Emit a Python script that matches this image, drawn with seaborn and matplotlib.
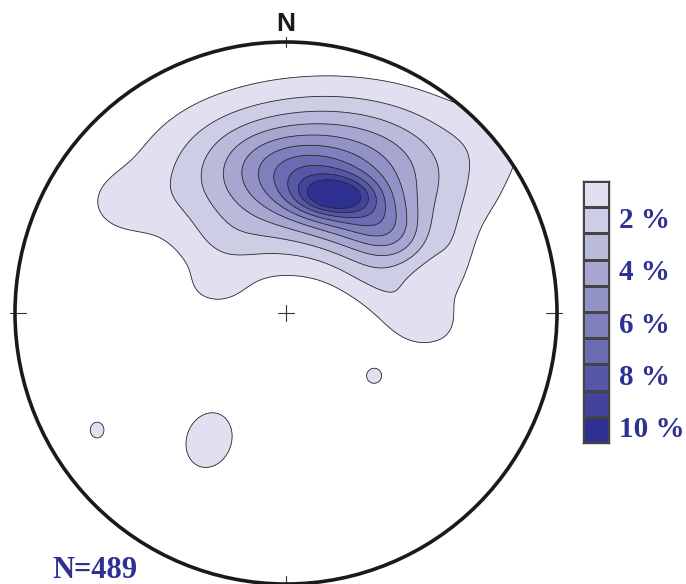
#!/usr/bin/env python3
"""
Stereonet pole density plot (Kamb-style percent contours)
"""

import numpy as np
import matplotlib
matplotlib.use("Agg")
import matplotlib.pyplot as plt
import seaborn as sns
from matplotlib.colors import ListedColormap
from matplotlib.patches import Circle

# density model: concentration centres on the unit net
# (x east, y north), spreads, rotation (deg) and peak height in percent
comp_x = [0.181, 0.199, 0.125, 0.384, 0.125, 0.347, 0.493, 0.624, -0.613, -0.262,
          -0.225, 0.790, -0.284, 0.325, -0.697]
comp_y = [0.432, 0.417, 0.521, 0.277, 0.472, 0.103, -0.044, 0.159, 0.399, 0.085,
          0.251, 0.657, -0.469, -0.232, -0.432]
comp_sx = [0.090, 0.203, 0.345, 0.111, 0.380, 0.166, 0.103, 0.055, 0.111, 0.111,
           0.111, 0.111, 0.080, 0.028, 0.026]
comp_sy = [0.044, 0.089, 0.185, 0.081, 0.203, 0.081, 0.081, 0.166, 0.092, 0.074,
           0.074, 0.092, 0.100, 0.028, 0.030]
comp_angle = [0, -25, 2, -35, 0, -40, -20, 0, 0, 0, 0, 0, -20, 0, 0]
comp_amp = [3.2, 3.0, 5.0, 1.8, 1.4, 1.3, 0.9, 0.7, 0.8, 0.85, 0.6, 0.45, 1.7, 1.6, 1.6]

levels = [1, 2, 3, 4, 5, 6, 7, 8, 9, 10]
level_labels = ["2 %", "4 %", "6 %", "8 %", "10 %"]
n_poles = 489

palette = sns.blend_palette(["#e2e0f0", "#2e3192"], len(levels))
text_blue = "#2e3192"

# evaluate density on a grid
g = np.linspace(-1.02, 1.02, 500)
X, Y = np.meshgrid(g, g)
Z = np.zeros_like(X)
for cx, cy, sx, sy, ang, amp in zip(comp_x, comp_y, comp_sx, comp_sy, comp_angle, comp_amp):
    t = np.deg2rad(ang)
    dx, dy = X - cx, Y - cy
    a = dx * np.cos(t) + dy * np.sin(t)
    b = -dx * np.sin(t) + dy * np.cos(t)
    Z += amp * np.exp(-0.5 * ((a / sx) ** 2 + (b / sy) ** 2))

sns.set_style("white")
fig = plt.figure(figsize=(6.86, 5.84), dpi=100)

# main net
ax = fig.add_axes([15 / 686, 0, 542 / 686, 542 / 584])
ax.set_xlim(-1, 1)
ax.set_ylim(-1, 1)
ax.set_aspect("equal")
ax.axis("off")

circle = Circle((0, 0), 1, transform=ax.transData, facecolor="none")
cf = ax.contourf(X, Y, Z, levels=levels + [100], colors=palette)
cf.set_clip_path(circle)
cl = ax.contour(X, Y, Z, levels=levels, colors="#2a2a2a", linewidths=0.6)
cl.set_clip_path(circle)

ax.add_patch(Circle((0, 0), 1, facecolor="none", edgecolor="#1a1a1a",
                    linewidth=2.6, clip_on=False, zorder=5))

# centre cross and cardinal ticks
tick = 0.03
ax.plot([-tick, tick], [0, 0], color="#333333", lw=0.8)
ax.plot([0, 0], [-tick, tick], color="#333333", lw=0.8)
ax.plot([-1.02, -0.96], [0, 0], color="#333333", lw=0.8, clip_on=False)
ax.plot([0.96, 1.02], [0, 0], color="#333333", lw=0.8, clip_on=False)
ax.plot([0, 0], [0.98, 1.02], color="#333333", lw=0.8, clip_on=False)
ax.plot([0, 0], [-1.02, -0.97], color="#333333", lw=0.8, clip_on=False)

fig.text(286 / 686, 1 - 24 / 584, "N", ha="center", va="center",
         fontsize=19, fontweight="bold", family="Liberation Sans", color="#1a1a1a")
fig.text(52 / 686, 1 - 570 / 584, f"N={n_poles}", ha="left", va="center",
         fontsize=22, fontweight="bold", family="Liberation Serif", color=text_blue)

# colour key drawn as a one-column heatmap
cax = fig.add_axes([583 / 686, 1 - 443 / 584, 26 / 686, 262 / 584])
key = np.arange(len(levels)).reshape(-1, 1)
sns.heatmap(key, ax=cax, cmap=ListedColormap(palette), cbar=False,
            linewidths=1.0, linecolor="#444444", xticklabels=False, yticklabels=False)
for s in cax.spines.values():
    s.set_visible(True)
    s.set_color("#444444")
    s.set_linewidth(1.0)

for i, lab in enumerate(level_labels):
    row = 2 * i + 1
    cax.text(1.4, row + 0.5, lab, ha="left", va="center", fontsize=21,
             fontweight="bold", family="Liberation Serif", color=text_blue,
             clip_on=False)

plt.savefig("out.png", dpi=100)
plt.close()
